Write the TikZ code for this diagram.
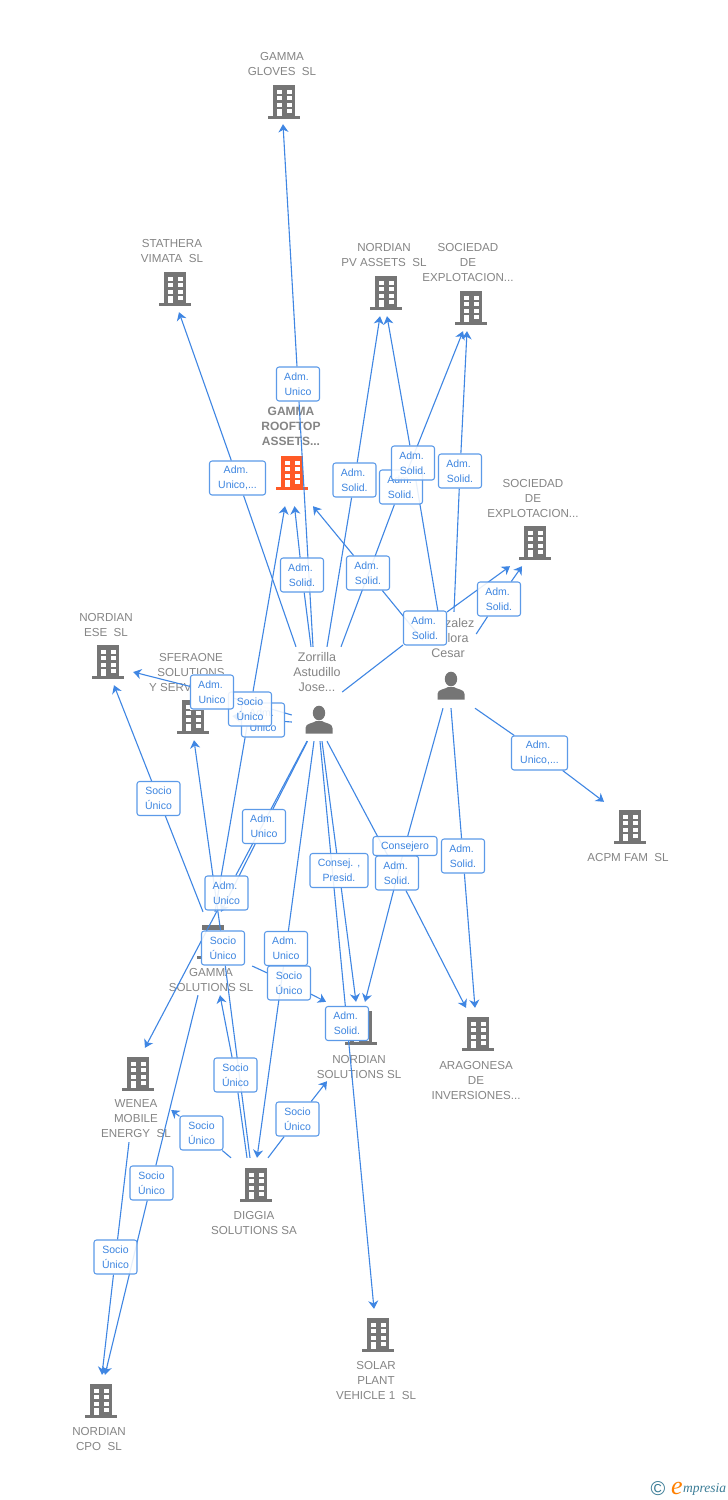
\documentclass[tikz,border=0pt]{standalone}
\usepackage{fontspec}
\setmainfont{Liberation Sans}
\newfontfamily\logofont{Liberation Serif}
\usetikzlibrary{arrows.meta}
\definecolor{linkblue}{HTML}{3F86E3}
\definecolor{tagblue}{HTML}{5C9AE8}
\definecolor{tagtext}{HTML}{3D85E0}
\definecolor{firmgray}{HTML}{757575}
\definecolor{labgray}{HTML}{858585}
\definecolor{rooforange}{HTML}{FF5A26}
\definecolor{logoteal}{HTML}{3A7C96}
\pgfdeclarelayer{back}
\pgfdeclarelayer{links}
\pgfsetlayers{back,links,main}
\tikzset{
	firm/.style={inner sep=0pt},
	lab/.style={align=center,inner sep=0pt,yshift=-1pt,text=labgray,font=\fontsize{11.6}{15}\selectfont},
	perslab/.style={align=center,inner sep=0pt,text=labgray,font=\fontsize{12.5}{15}\selectfont},
	tag/.style={draw=tagblue,line width=1.05pt,rounded corners=2.5pt,fill=white,fill opacity=.88,text opacity=1,
		minimum width=43pt,minimum height=34pt,inner sep=0pt,align=center,text=tagtext,font=\fontsize{10.5}{15}\selectfont,
		execute at begin node={\rule{0pt}{10pt}}},
	link/.style={linkblue,line width=1.1pt,-{Stealth[length=8pt,width=10pt,inset=2.5pt]}},
	pics/bldg/.style={code={
		\fill[#1] (-10.7,-16.7) rectangle (11,14.3);
		\fill[#1] (-15.7,14.3) rectangle (16,16.7);
		\foreach \wy in {-12.3,-5.7,.7}{
			\fill[white] (-7.3,\wy) rectangle +(5,3.8);
			\fill[white] (2.7,\wy) rectangle +(5,3.8);
		}
		\fill[white] (-7.3,6.9) rectangle (-2.3,14.3);
		\fill[white] (2.7,6.9) rectangle (7.7,11);
	}},
	pics/pers/.style={code={
		\fill[firmgray] (0,-7) ellipse (6.2pt and 7.3pt);
		\fill[firmgray] (-13.5,13.5) -- (-13.5,8) .. controls (-13.5,3) and (-6,3.5) .. (-3,1) -- (3,1) .. controls (6,3.5) and (13.5,3) .. (13.5,8) -- (13.5,13.5) -- cycle;
	}}
}
\newcommand{\adm}{Adm.\kern3pt}
\begin{document}
\begin{tikzpicture}[x=1pt,y=-1pt]
\useasboundingbox (0,0) rectangle (728,1500);

\begin{pgfonlayer}{back}
	\fill[white] (0,0) rectangle (728,1500);
	% firms: box for the connectors, then label, then icon
	\node[firm,minimum width=68pt,minimum height=76pt] (gloves) at (282,86) {};
	\node[lab] (glovesL) at (282,63.5) {GAMMA\\GLOVES~~SL};
	\pic at (284,102) {bldg=firmgray};
	\node[firm,minimum width=65pt,minimum height=77pt] (stathera) at (172.5,273.5) {};
	\node[lab] (statheraL) at (172,250.5) {STATHERA\\VIMATA~~SL};
	\pic at (175,289) {bldg=firmgray};
	\node[firm,minimum width=88pt,minimum height=77pt] (pvassets) at (384,277.5) {};
	\node[lab] (pvassetsL) at (384,254.5) {NORDIAN\\PV ASSETS~~SL};
	\pic at (386,293) {bldg=firmgray};
	\node[firm,minimum width=93pt,minimum height=92pt] (explA) at (468.5,285) {};
	\node[lab] (explAL) at (468,262) {SOCIEDAD\\DE\\EXPLOTACION...};
	\pic at (471,308) {bldg=firmgray};
	\node[firm,minimum width=92pt,minimum height=92pt] (explB) at (533,520) {};
	\node[lab] (explBL) at (533,497) {SOCIEDAD\\DE\\EXPLOTACION...};
	\pic at (535,543) {bldg=firmgray};
	\node[firm,minimum width=67pt,minimum height=103pt] (rooftop) at (291.5,454.5) {};
	\node[lab,yshift=1pt,font=\fontsize{12}{15}\selectfont\bfseries] (rooftopL) at (291,426) {GAMMA\\ROOFTOP\\ASSETS...};
	\pic at (292,473) {bldg=rooforange};
	\node[firm,minimum width=55pt,minimum height=77pt] (nese) at (105.5,646.5) {};
	\node[lab] (neseL) at (106,623.5) {NORDIAN\\ESE~~SL};
	\pic at (108,662) {bldg=firmgray};
	\node[firm,minimum width=75pt,minimum height=92pt] (sferaone) at (194.5,694) {};
	\node[lab] (sferaoneL) at (191,671) {SFERAONE\\SOLUTIONS\\Y SERVICIOS...};
	\pic at (193,717) {bldg=firmgray};
	\node[firm,minimum width=84pt,minimum height=83pt] (gammasol) at (210,953.5) {};
	\node[lab] (gammasolL) at (211,978.5) {GAMMA\\SOLUTIONS SL};
	\pic at (213,942) {bldg=firmgray};
	\node[firm,minimum width=71pt,minimum height=94pt] (wenea) at (135.5,1095) {};
	\node[lab] (weneaL) at (136,1118) {WENEA\\MOBILE\\ENERGY~~SL};
	\pic at (138,1074) {bldg=firmgray};
	\node[firm,minimum width=88pt,minimum height=80pt] (diggia) at (254,1198) {};
	\node[lab] (diggiaL) at (254,1221.5) {DIGGIA\\SOLUTIONS SA};
	\pic at (256,1185) {bldg=firmgray};
	\node[firm,minimum width=85pt,minimum height=79pt] (nsol) at (359.5,1041.5) {};
	\node[lab] (nsolL) at (359,1065.5) {NORDIAN\\SOLUTIONS SL};
	\pic at (361,1028) {bldg=firmgray};
	\node[firm,minimum width=92pt,minimum height=94pt] (aragonesa) at (476,1055) {};
	\node[lab] (aragonesaL) at (476,1079) {ARAGONESA\\DE\\INVERSIONES...};
	\pic at (478,1034) {bldg=firmgray};
	\node[firm,minimum width=82pt,minimum height=93pt] (solar) at (376,1355.5) {};
	\node[lab] (solarL) at (376,1379) {SOLAR\\PLANT\\VEHICLE 1~~SL};
	\pic at (378,1335) {bldg=firmgray};
	\node[firm,minimum width=54pt,minimum height=77pt] (ncpo) at (99,1413.5) {};
	\node[lab] (ncpoL) at (99,1437.5) {NORDIAN\\CPO~~SL};
	\pic at (101,1401) {bldg=firmgray};
	\node[firm,minimum width=84pt,minimum height=63pt] (acpm) at (628,833.5) {};
	\node[lab] (acpmL) at (628,856) {ACPM FAM~~SL};
	\pic at (630,827) {bldg=firmgray};
	% people
	\node[firm,minimum width=50pt,minimum height=94pt] (zorrilla) at (317,694) {};
	\node[perslab] (zorrillaL) at (317,672) {Zorrilla\\Astudillo\\Jose...};
	\pic at (319,720) {pers};
	\node[firm,minimum width=53pt,minimum height=96pt] (gonzalez) at (449.5,660) {};
	\node[perslab] (gonzalezL) at (448,638) {Gonzalez\\Mollora\\Cesar};
	\pic at (451,686) {pers};
\end{pgfonlayer}

% labels on the connectors, later ones lie over earlier ones
\node[tag] (zgloves) at (298,384) {\adm\\Unico};
\node[tag,minimum width=56pt] (zstath) at (237.5,478) {\adm\\Unico,...};
\node[tag] (zpv) at (354.5,480) {\adm\\Solid.};
\node[tag] (zexp) at (401,487) {\adm\\Solid.};
\node[tag] (gpv) at (413,463) {\adm\\Solid.};
\node[tag] (gexp) at (460,471) {\adm\\Solid.};
\node[tag] (zroof) at (302,575) {\adm\\Solid.};
\node[tag] (groof) at (368,573) {\adm\\Solid.};
\node[tag] (zexpb) at (425,628) {\adm\\Solid.};
\node[tag] (gexpb) at (499,599) {\adm\\Solid.};
\node[tag] (zsfer) at (263,720) {\adm\\Unico};
\node[tag] (sroof) at (250,709) {Socio\\Único};
\node[tag] (znese) at (212,692) {\adm\\Unico};
\node[tag] (snese) at (158.5,798.5) {Socio\\Único};
\node[tag] (zgamma) at (264,826.5) {\adm\\Unico};
\node[tag] (zwenea) at (226.5,893) {\adm\\Unico};
\node[tag] (dsfer) at (223,948) {Socio\\Único};
\node[tag] (zdiggia) at (286,948.5) {\adm\\Unico};
\node[tag] (gnsol) at (289,983) {Socio\\Único};
\node[tag] (dgamma) at (235.5,1075) {Socio\\Único};
\node[tag] (dnsol) at (297.5,1119) {Socio\\Único};
\node[tag] (dwenea) at (201.5,1133) {Socio\\Único};
\node[tag] (gcpo) at (151.5,1183) {Socio\\Único};
\node[tag] (wcpo) at (115.5,1257) {Socio\\Único};
\node[tag] (zsolar) at (347,1023.5) {\adm\\Solid.};
\node[tag,minimum width=58pt] (znsol) at (339,870.5) {Consej. ,\\Presid.};
\node[tag,minimum width=64pt,minimum height=19pt] (gconsej) at (405,846) {Consejero};
\node[tag] (zarag) at (397,873) {\adm\\Solid.};
\node[tag] (garag) at (463,856) {\adm\\Solid.};
\node[tag,minimum width=56pt] (gacpm) at (539.5,753) {\adm\\Unico,...};

\begin{pgfonlayer}{links}
	% these labels hide what lies under them
	\foreach \tg in {dsfer,zsolar,znese,sroof,zsfer,zexpb}
		\fill[white] (\tg.north west) rectangle (\tg.south east);

	\draw[link] ([xshift=-4pt]zorrilla.north) -- (zgloves) -- ([xshift=1pt]gloves.south);
	\draw[link] ([xshift=-21pt]zorrilla.north) -- (zstath) -- ([xshift=6.5pt]stathera.south);
	\draw[link] ([xshift=10pt]zorrilla.north) -- (zpv) -- ([xshift=-4pt]pvassets.south);
	\draw[link] ([xshift=24pt]zorrilla.north) -- (zexp) -- ([xshift=-5.5pt]explA.south);
	\draw[link] ([xshift=-11.5pt]gonzalez.north) -- (gpv) -- ([xshift=3pt]pvassets.south);
	\draw[link] ([xshift=4.5pt]gonzalez.north) -- (gexp) -- ([xshift=-1.5pt]explA.south);
	\draw[link] ([xshift=-6pt]zorrilla.north) -- (zroof) -- ([xshift=3pt]rooftop.south);
	\draw[link] ([yshift=20pt]gonzalez.west) -- (groof) -- ([xshift=21.5pt]rooftop.south);
	\draw[link] ([yshift=2pt]zorrilla.east) -- (zexpb) -- ([xshift=-23pt]explB.south);
	\draw[link] ([yshift=26pt]gonzalez.east) -- (gexpb) -- ([xshift=-11pt]explB.south);
	\draw[link] ([yshift=-21pt]zorrilla.west) -- (znese) -- ([yshift=-25.5pt]nese.east);
	\draw[link] ([xshift=5pt]gammasol.north) -- (sroof) -- ([xshift=-6.5pt]rooftop.south);
	\draw[link] ([yshift=-28pt]zorrilla.west) -- (zsfer) -- ([yshift=-22pt]sferaone.east);
	\draw[link] ([xshift=-7pt]gammasol.north) -- (snese) -- ([xshift=8.5pt]nese.south);
	\draw[link] ([xshift=-10pt]zorrilla.south) -- (zwenea) -- ([xshift=9.5pt]wenea.north);
	\draw[link] ([xshift=-9.5pt]zorrilla.south) -- (zgamma) -- ([xshift=11pt]gammasol.north);
	\draw[link] ([xshift=-4pt]diggia.north) -- (dsfer) -- ([xshift=-.5pt]sferaone.south);
	\draw[link] ([xshift=-7pt]diggia.north) -- (dgamma) -- ([xshift=10pt]gammasol.south);
	\draw[link] ([xshift=-3pt]zorrilla.south) -- (zdiggia) -- ([xshift=3pt]diggia.north);
	\draw[link] ([yshift=-12.5pt]gammasol.east) -- (gnsol) -- ([xshift=-33.5pt]nsol.north);
	\draw[link] ([xshift=14pt]diggia.north) -- (dnsol) -- ([xshift=-32.5pt]nsol.south);
	\draw[link] ([xshift=-23pt]diggia.north) -- (dwenea) -- ([yshift=-15pt]wenea.east);
	\draw[link] ([xshift=-12pt]gammasol.south) -- (gcpo) -- ([xshift=6pt]ncpo.north);
	\draw[link] ([xshift=-6.5pt]wenea.south) -- (wcpo) -- ([xshift=3pt]ncpo.north);
	\draw[link] ([xshift=3pt]zorrilla.south) -- (zsolar) -- ([xshift=-2pt]solar.north);
	\draw[link] ([xshift=5pt]zorrilla.south) -- (znsol) -- ([xshift=-3.5pt]nsol.north);
	\draw[link] ([xshift=-6.5pt]gonzalez.south) -- (gconsej) -- ([xshift=5.5pt]nsol.north);
	\draw[link] ([xshift=10pt]zorrilla.south) -- (zarag) -- ([xshift=-10pt]aragonesa.north);
	\draw[link] ([xshift=1.5pt]gonzalez.south) -- (garag) -- ([xshift=-1pt]aragonesa.north);
	\draw[link] ([xshift=25.5pt]gonzalez.south) -- (gacpm) -- ([xshift=-24pt]acpm.north);
\end{pgfonlayer}

\node[inner sep=0pt,text=logoteal,font=\fontsize{20}{20}\selectfont] (logoC) at (658,1489) {©};
\node[inner sep=0pt,text=orange,font=\logofont\fontsize{26}{26}\selectfont\itshape] (logoE) at (677,1488) {e};
\node[inner sep=0pt,anchor=west,text=logoteal,font=\logofont\fontsize{13.5}{13.5}\selectfont\itshape] (logoT) at (683,1489) {mpresia};
\end{tikzpicture}
\end{document}
